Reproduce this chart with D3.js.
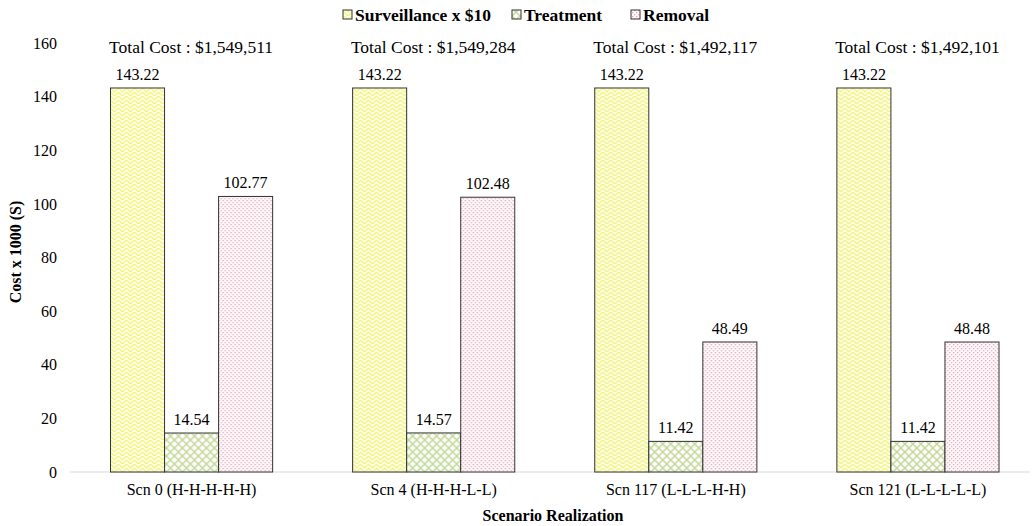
<!DOCTYPE html>
<html>
<head>
<meta charset="utf-8">
<script src="https://cdn.jsdelivr.net/npm/d3@7"></script>
<style>
  html, body { margin: 0; padding: 0; background: #fff; }
  svg { display: block; }
  svg text { font-family: "Liberation Serif", "Times New Roman", serif; }
</style>
</head>
<body>
<svg id="chart" width="1034" height="526"></svg>
<script>
// Scenario categories and cost series (thousands of dollars)
const categories = ["Scn 0 (H-H-H-H-H)", "Scn 4 (H-H-H-L-L)", "Scn 117 (L-L-L-H-H)", "Scn 121 (L-L-L-L-L)"];
const seriesNames = ["Surveillance x $10", "Treatment", "Removal"];
const surveillance = [143.22, 143.22, 143.22, 143.22];
const treatment = [14.54, 14.57, 11.42, 11.42];
const removal = [102.77, 102.48, 48.49, 48.48];
const totalCosts = ["$1,549,511", "$1,549,284", "$1,492,117", "$1,492,101"];
const yTicks = [0, 20, 40, 60, 80, 100, 120, 140, 160];

const seriesValues = [surveillance, treatment, removal];
const patternIds = ["pat-surv", "pat-treat", "pat-rem"];

const svg = d3.select("#chart");
const defs = svg.append("defs");

// Yellow zig-zag weave
const p1 = defs.append("pattern").attr("id", "pat-surv").attr("patternUnits", "userSpaceOnUse")
  .attr("width", 8).attr("height", 8);
p1.append("rect").attr("width", 8).attr("height", 8).attr("fill", "#fefef2");
p1.append("path").attr("d", "M0,0 L4,4 L8,0 M0,4 L4,8 L8,4")
  .attr("stroke", "#f2f580").attr("stroke-width", 1.5).attr("fill", "none");

// Green diagonal lattice
const p2 = defs.append("pattern").attr("id", "pat-treat").attr("patternUnits", "userSpaceOnUse")
  .attr("width", 8).attr("height", 8);
p2.append("rect").attr("width", 8).attr("height", 8).attr("fill", "#fbfdf6");
p2.append("path").attr("d", "M0,0 L8,8 M8,0 L0,8")
  .attr("stroke", "#c2d79c").attr("stroke-width", 1.4).attr("fill", "none");

// Red small checker dots
const p3 = defs.append("pattern").attr("id", "pat-rem").attr("patternUnits", "userSpaceOnUse")
  .attr("width", 4).attr("height", 4);
p3.append("rect").attr("width", 4).attr("height", 4).attr("fill", "#fdf9fa");
p3.append("rect").attr("x", 0).attr("y", 0).attr("width", 1.3).attr("height", 1.3).attr("fill", "#e3a6b6");
p3.append("rect").attr("x", 2).attr("y", 2).attr("width", 1.3).attr("height", 1.3).attr("fill", "#e6b3c4");

// Scales
const x0 = d3.scaleBand().domain(categories).range([70.5, 1039]).padding(0);
const x1 = d3.scaleBand().domain(seriesNames).range([0, x0.bandwidth()]).paddingInner(0).paddingOuter(0.74);
const y = d3.scaleLinear().domain([0, 160]).range([472, 43]);

// Baseline
svg.append("line")
  .attr("x1", 70).attr("x2", 1030)
  .attr("y1", y(0)).attr("y2", y(0))
  .attr("stroke", "#d9d9d9").attr("stroke-width", 1.2);

// Y axis tick labels
const yAxis = d3.axisLeft(y).tickValues(yTicks).tickSize(0).tickPadding(0);
const yg = svg.append("g").attr("transform", "translate(57,0)").call(yAxis)
  .attr("font-family", null).attr("font-size", null);
yg.select(".domain").remove();
yg.selectAll("text").attr("font-size", 16).attr("fill", "#000");

// X axis category labels
const xAxis = d3.axisBottom(x0).tickSize(0).tickPadding(0);
const xg = svg.append("g").attr("transform", "translate(0,484)").call(xAxis)
  .attr("font-family", null).attr("font-size", null);
xg.select(".domain").remove();
xg.selectAll("text").attr("font-size", 16).attr("fill", "#000");

// Bars
const groups = svg.append("g").selectAll("g")
  .data(categories)
  .join("g")
  .attr("transform", d => `translate(${x0(d)},0)`);

groups.selectAll("rect")
  .data((c, ci) => seriesNames.map((s, si) => ({ s, si, v: seriesValues[si][ci] })))
  .join("rect")
  .attr("x", d => x1(d.s))
  .attr("y", d => y(d.v))
  .attr("width", x1.bandwidth())
  .attr("height", d => y(0) - y(d.v))
  .attr("fill", d => `url(#${patternIds[d.si]})`)
  .attr("stroke", "#333")
  .attr("stroke-width", 1);

// Value labels
groups.selectAll("text.val")
  .data((c, ci) => seriesNames.map((s, si) => ({ s, si, v: seriesValues[si][ci] })))
  .join("text")
  .attr("class", "val")
  .attr("x", d => x1(d.s) + x1.bandwidth() / 2)
  .attr("y", d => y(d.v) - 8)
  .attr("text-anchor", "middle")
  .attr("font-size", 16)
  .attr("fill", "#000")
  .text(d => d.v.toFixed(2));

// Total cost annotations
svg.append("g").selectAll("text")
  .data(categories)
  .join("text")
  .attr("x", (d) => x0(d) + x0.bandwidth() / 2 - 0.5)
  .attr("y", 53)
  .attr("text-anchor", "middle")
  .attr("font-size", 17.5)
  .attr("fill", "#000")
  .text((d, i) => "Total Cost : " + totalCosts[i]);

// Axis titles
svg.append("text")
  .attr("x", 553).attr("y", 521)
  .attr("text-anchor", "middle")
  .attr("font-size", 16).attr("font-weight", "bold")
  .text("Scenario Realization");

svg.append("text")
  .attr("transform", "translate(21,252) rotate(-90)")
  .attr("text-anchor", "middle")
  .attr("font-size", 16).attr("font-weight", "bold")
  .text("Cost x 1000 (S)");

// Legend (swatch left edges)
const legendX = [343, 512, 631];
const legend = svg.append("g");
seriesNames.forEach((name, i) => {
  legend.append("rect")
    .attr("x", legendX[i]).attr("y", 10).attr("width", 9).attr("height", 9)
    .attr("fill", `url(#${patternIds[i]})`)
    .attr("stroke", "#333").attr("stroke-width", 1);
  legend.append("text")
    .attr("x", legendX[i] + 12).attr("y", 21)
    .attr("font-size", 17.5).attr("font-weight", "bold")
    .text(name);
});
</script>
</body>
</html>
